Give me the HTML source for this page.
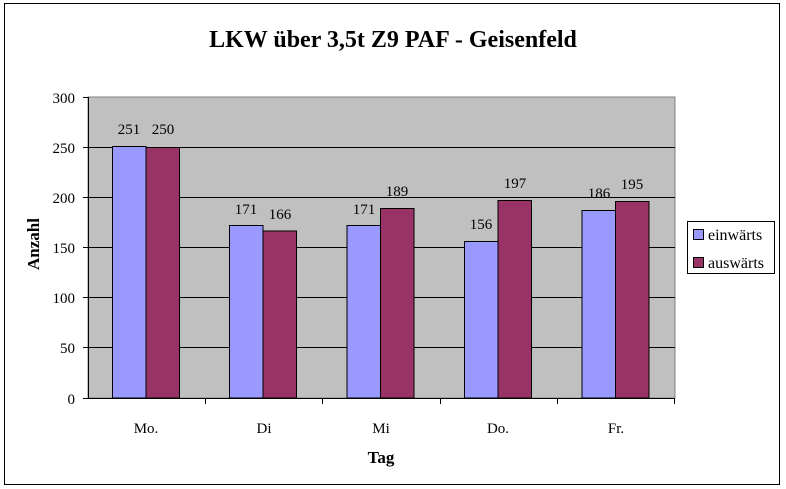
<!DOCTYPE html>
<html><head><meta charset="utf-8"><style>
html,body{margin:0;padding:0;background:#fff;}
svg{display:block;font-family:"Liberation Serif",serif;}
</style></head><body>
<svg width="786" height="489" viewBox="0 0 786 489" xmlns="http://www.w3.org/2000/svg">
<rect x="4.5" y="3.5" width="775" height="481" fill="#fff" stroke="#000" stroke-width="1"/>
<text x="393" y="47" text-anchor="middle" font-size="24" font-weight="bold">LKW über 3,5t Z9 PAF - Geisenfeld</text>
<rect x="88" y="97" width="587" height="301" fill="#c0c0c0" stroke="#808080"/>
<g stroke="#000" stroke-width="1">
<line x1="88" y1="147.5" x2="675" y2="147.5"/>
<line x1="88" y1="197.5" x2="675" y2="197.5"/>
<line x1="88" y1="247.5" x2="675" y2="247.5"/>
<line x1="88" y1="297.5" x2="675" y2="297.5"/>
<line x1="88" y1="347.5" x2="675" y2="347.5"/>
<line x1="88.5" y1="97" x2="88.5" y2="398"/>
<line x1="88" y1="398.5" x2="675" y2="398.5"/>
<line x1="83" y1="97.5" x2="88" y2="97.5"/>
<line x1="83" y1="147.5" x2="88" y2="147.5"/>
<line x1="83" y1="197.5" x2="88" y2="197.5"/>
<line x1="83" y1="247.5" x2="88" y2="247.5"/>
<line x1="83" y1="297.5" x2="88" y2="297.5"/>
<line x1="83" y1="347.5" x2="88" y2="347.5"/>
<line x1="83" y1="398.5" x2="88" y2="398.5"/>
<line x1="205.5" y1="398" x2="205.5" y2="404"/>
<line x1="322.5" y1="398" x2="322.5" y2="404"/>
<line x1="440.5" y1="398" x2="440.5" y2="404"/>
<line x1="557.5" y1="398" x2="557.5" y2="404"/>
<line x1="674.5" y1="398" x2="674.5" y2="404"/>
</g>
<g font-size="15" text-anchor="end">
<text x="75" y="103">300</text><text x="75" y="153">250</text><text x="75" y="203">200</text>
<text x="75" y="253">150</text><text x="75" y="303">100</text><text x="75" y="353">50</text><text x="75" y="404">0</text>
</g>
<g stroke="#000" stroke-width="1">
<rect x="112.5" y="146.5" width="33.5" height="251.5" fill="#9999ff"/>
<rect x="146" y="147.5" width="33.5" height="250.5" fill="#993366"/>
<rect x="229.5" y="225.5" width="33.5" height="172.5" fill="#9999ff"/>
<rect x="263" y="231" width="33.5" height="167" fill="#993366"/>
<rect x="347" y="225.5" width="33.5" height="172.5" fill="#9999ff"/>
<rect x="380.5" y="208.5" width="33.5" height="189.5" fill="#993366"/>
<rect x="464.5" y="241.5" width="33.5" height="156.5" fill="#9999ff"/>
<rect x="498" y="200.5" width="33.5" height="197.5" fill="#993366"/>
<rect x="582" y="210.5" width="33.5" height="187.5" fill="#9999ff"/>
<rect x="615.5" y="201.5" width="33.5" height="196.5" fill="#993366"/>
</g>
<g font-size="15" text-anchor="middle">
<text x="129" y="134">251</text><text x="163" y="134">250</text>
<text x="246" y="214">171</text><text x="280" y="219">166</text>
<text x="364" y="214">171</text><text x="397" y="196">189</text>
<text x="481" y="229">156</text><text x="515" y="188">197</text>
<text x="599" y="198">186</text><text x="632" y="189">195</text>
<text x="146" y="433">Mo.</text><text x="264" y="433">Di</text><text x="381" y="433">Mi</text>
<text x="498" y="433">Do.</text><text x="616" y="433">Fr.</text>
</g>
<text x="381" y="463" text-anchor="middle" font-size="17" font-weight="bold">Tag</text>
<text transform="translate(39,244) rotate(-90)" text-anchor="middle" font-size="17" font-weight="bold">Anzahl</text>
<rect x="687.5" y="221.5" width="87" height="52" fill="#fff" stroke="#000"/>
<rect x="693.5" y="229.5" width="10" height="10" fill="#9999ff" stroke="#000"/>
<rect x="693.5" y="257.5" width="10" height="10" fill="#993366" stroke="#000"/>
<text x="708" y="240" font-size="16">einwärts</text>
<text x="708" y="268" font-size="16">auswärts</text>
</svg>
</body></html>
